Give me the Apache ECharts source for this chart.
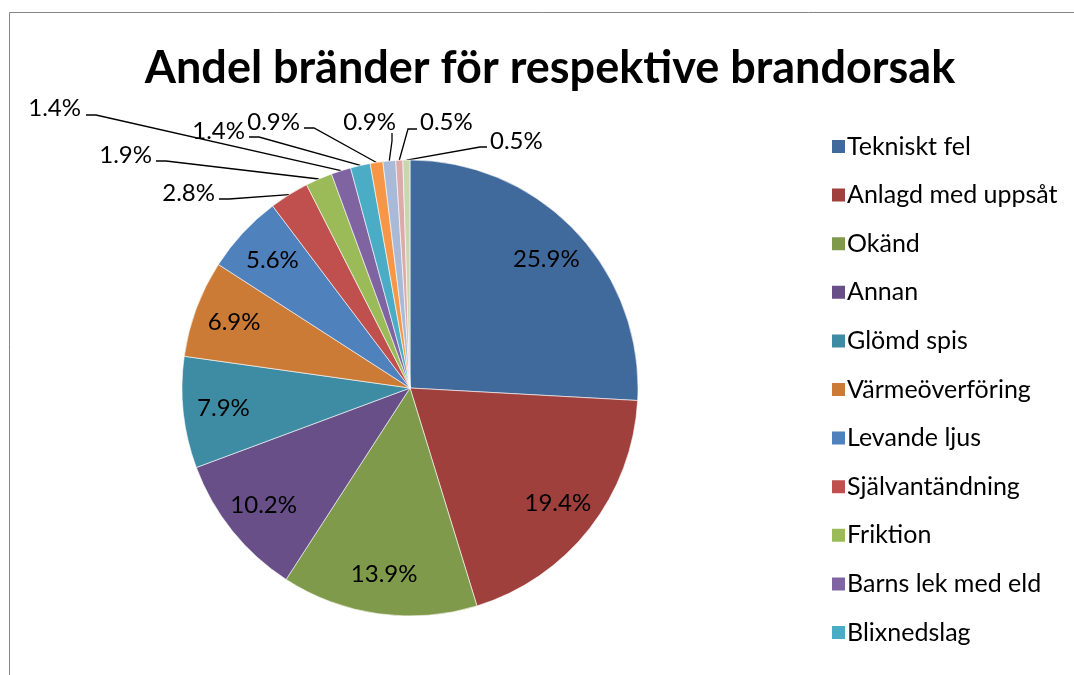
<!DOCTYPE html>
<html>
<head>
<meta charset="utf-8">
<title>Andel bränder för respektive brandorsak</title>
<script src="https://cdn.jsdelivr.net/npm/echarts@6/dist/echarts.min.js"></script>
<style>
  html, body { margin: 0; padding: 0; background: #fff; }
  #chart { width: 1074px; height: 675px; }
</style>
</head>
<body>
<div id="chart"></div>
<script>
// Fire causes and their share of all fires (percent)
const causes = [
  'Tekniskt fel', 'Anlagd med uppsåt', 'Okänd', 'Annan', 'Glömd spis',
  'Värmeöverföring', 'Levande ljus', 'Självantändning', 'Friktion',
  'Barns lek med eld', 'Blixnedslag', 'Övrig orsak A', 'Övrig orsak B',
  'Övrig orsak C', 'Övrig orsak D'
];
const shares = [25.9, 19.4, 13.9, 10.2, 7.9, 6.9, 5.6, 2.8, 1.9, 1.4, 1.4, 0.9, 0.9, 0.5, 0.5];
// Only the first eleven causes fit in the legend box
const legendShown = causes.slice(0, 11);

const sliceColors = [
  '#416a9c', '#9f403d', '#7f9a4a', '#684f87', '#3d8ca4', '#cc7b37',
  '#4f81bd', '#c0504d', '#9bbb59', '#8064a2', '#4bacc6', '#f79646',
  '#a9bad8', '#dbaaa9', '#c9d7ae'
];

// Slices with a label inside the pie; the rest get leader lines
const INSIDE_COUNT = 7;

// Leader-line label placement for the small slices:
// [text x, text y, text align, line bend x, line end x, line y]
const outerSpots = {
  7:  [215, 193, 'right', 229, 219, 199],
  8:  [152, 155, 'right', 166, 156, 161],
  9:  [81, 108, 'right', 96, 86, 115],
  10: [245, 131, 'right', 259, 249, 137],
  11: [300, 122, 'right', 314, 304, 128],
  12: [396, 122, 'right', 392, 392, 133],
  13: [420, 122, 'left', 408, 417, 129],
  14: [490, 141, 'left', 480, 487, 147]
};

const FONT = 'Lato, "Open Sans", sans-serif';
const CENTER = [410, 388];
const R = 228;
const LABEL_SIZE = 24;

const fmt = p => p.value.toFixed(1) + '%';

const mainData = causes.map((name, i) => ({
  name,
  value: shares[i],
  itemStyle: { color: sliceColors[i] },
  label: { show: i >= INSIDE_COUNT },
  labelLine: { show: i >= INSIDE_COUNT }
}));

const innerLabelData = causes.map((name, i) => ({
  name,
  value: shares[i],
  label: { show: i < INSIDE_COUNT }
}));

const chart = echarts.init(document.getElementById('chart'), null, { renderer: 'canvas' });

chart.setOption({
  animation: false,
  backgroundColor: '#ffffff',
  color: sliceColors,
  graphic: [
    {
      type: 'rect',
      shape: { x: 9.5, y: 12.5, width: 1200, height: 800 },
      style: { fill: 'none', stroke: '#868686', lineWidth: 1 },
      silent: true
    },
    {
      type: 'text',
      x: 550,
      y: 68,
      style: {
        text: 'Andel bränder för respektive brandorsak',
        font: 'bold 45px ' + FONT,
        fill: '#000',
        align: 'center',
        verticalAlign: 'middle'
      },
      silent: true
    }
  ],
  legend: {
    orient: 'vertical',
    left: 825,
    top: 129,
    data: legendShown,
    icon: 'rect',
    itemWidth: 15,
    itemHeight: 15,
    itemGap: 23.6,
    selectedMode: false,
    textStyle: {
      fontFamily: FONT,
      fontSize: 25,
      color: '#000',
      padding: [0, 0, 0, -4]
    }
  },
  series: [
    {
      type: 'pie',
      name: 'Brandorsak',
      center: CENTER,
      radius: R,
      startAngle: 90,
      clockwise: true,
      avoidLabelOverlap: false,
      itemStyle: { borderColor: '#ffffff', borderWidth: 0.6 },
      label: {
        position: 'outside',
        formatter: fmt,
        fontFamily: FONT,
        fontSize: LABEL_SIZE,
        color: '#000'
      },
      labelLine: {
        length: 10,
        length2: 10,
        smooth: false,
        lineStyle: { color: '#000', width: 1.3 }
      },
      emphasis: { disabled: true },
      labelLayout: function (params) {
        const spot = outerSpots[params.dataIndex];
        if (!spot || !params.labelLinePoints) return {};
        const start = params.labelLinePoints[0];
        const [tx, ty, align, bendX, endX, lineY] = spot;
        let points;
        if (params.dataIndex === 12) {
          points = [start, [bendX, lineY + 8], [endX, lineY]];
        } else {
          points = [start, [bendX, lineY], [endX, lineY]];
        }
        return {
          x: tx,
          y: ty,
          align: align,
          verticalAlign: 'middle',
          labelLinePoints: points
        };
      },
      data: mainData
    },
    {
      // Transparent ring that only carries the in-slice percentage labels
      type: 'pie',
      name: 'Etiketter',
      center: CENTER,
      radius: [R * 0.62, R],
      startAngle: 90,
      clockwise: true,
      silent: true,
      avoidLabelOverlap: false,
      itemStyle: { color: 'rgba(0,0,0,0)' },
      label: {
        position: 'inside',
        formatter: fmt,
        fontFamily: FONT,
        fontSize: LABEL_SIZE,
        color: '#000'
      },
      labelLine: { show: false },
      emphasis: { disabled: true },
      tooltip: { show: false },
      data: innerLabelData
    }
  ]
});
</script>
</body>
</html>
